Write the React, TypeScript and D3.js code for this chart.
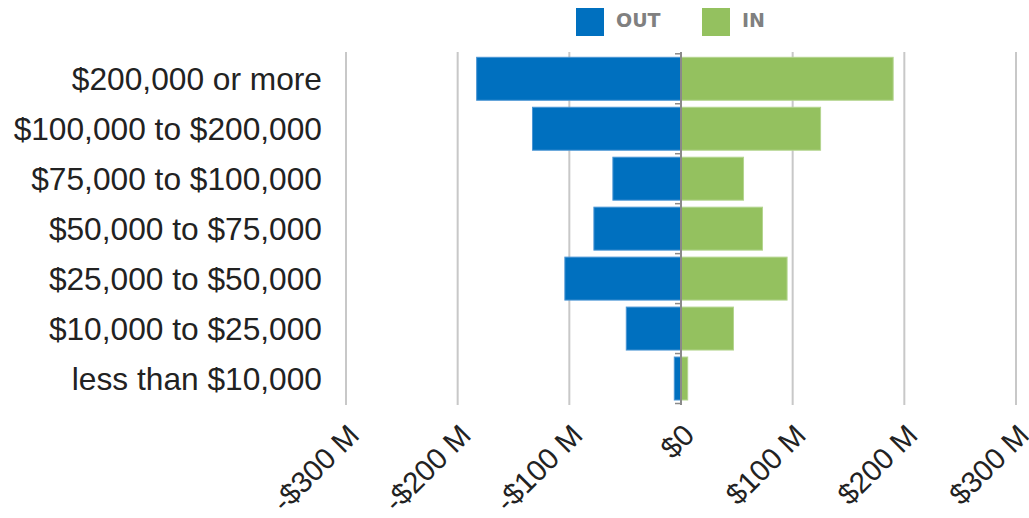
import React from "react";
import * as d3 from "d3";

const categories = [
  "$200,000 or more",
  "$100,000 to $200,000",
  "$75,000 to $100,000",
  "$50,000 to $75,000",
  "$25,000 to $50,000",
  "$10,000 to $25,000",
  "less than $10,000",
];
const outValues = [183, 133, 61, 78, 104, 49, 6];
const inValues = [190, 125, 56, 73, 95, 47, 6];
const xTicks = [-300, -200, -100, 0, 100, 200, 300];
const tickLabels = ["-$300 M", "-$200 M", "-$100 M", "$0", "$100 M", "$200 M", "$300 M"];
const seriesNames = ["OUT", "IN"];
const colors = ["#0070bf", "#94c15f"];

export default function App() {
  const W = 1029, H = 518;
  const x = d3.scaleLinear().domain([-300, 300]).range([346, 1016]);
  const y = d3.scaleBand<string>().domain(categories).range([53.8, 403.5]).paddingInner(0.14).paddingOuter(0.07);
  const x0 = x(0);
  const gridTop = 52, gridBottom = 405;
  const step = y.step();
  const boundaries = d3.range(categories.length + 1).map((i) => y.range()[0] + i * step);

  return (
    <svg width={W} height={H} style={{ position: "absolute", left: 0, top: 0, background: "#fff" }}>
      {xTicks.filter((t) => t !== 0).map((t) => (
        <line key={t} x1={x(t)} x2={x(t)} y1={gridTop} y2={gridBottom} stroke="#c8c8c8" strokeWidth={2} />
      ))}
      {categories.map((c, i) => (
        <g key={c}>
          <rect x={x(-outValues[i])} y={y(c)} width={x0 - x(-outValues[i])} height={y.bandwidth()}
            fill={colors[0]} stroke="#4a95d4" strokeWidth={1} />
          <rect x={x0} y={y(c)} width={x(inValues[i]) - x0} height={y.bandwidth()}
            fill={colors[1]} stroke="#b4d58f" strokeWidth={1} />
        </g>
      ))}
      <line x1={x0} x2={x0} y1={gridTop} y2={gridBottom} stroke="#8a8a8a" strokeWidth={2} />
      {boundaries.map((b, i) => (
        <line key={i} x1={x0 - 6} x2={x0} y1={b} y2={b} stroke="#8a8a8a" strokeWidth={1.5} />
      ))}
      {categories.map((c) => (
        <text key={c} x={322} y={(y(c) as number) + y.bandwidth() / 2} dy="0.36em" textAnchor="end"
          fontFamily="Liberation Sans, Arial, sans-serif" fontSize={31.7} fill="#222">{c}</text>
      ))}
      {xTicks.map((t, i) => (
        <text key={t} transform={`translate(${x(t) + 15},437) rotate(-45)`} textAnchor="end"
          fontFamily="Liberation Sans, Arial, sans-serif" fontSize={29.5} fill="#222">{tickLabels[i]}</text>
      ))}
      {seriesNames.map((s, i) => (
        <g key={s} transform={`translate(${576 + i * 126},8)`}>
          <rect x={0} y={0} width={28} height={28} fill={colors[i]} />
          <text x={40} y={19} fontFamily="DejaVu Sans, Verdana, sans-serif" fontWeight="bold" fontSize={19} fill="#808080">{s}</text>
        </g>
      ))}
    </svg>
  );
}
